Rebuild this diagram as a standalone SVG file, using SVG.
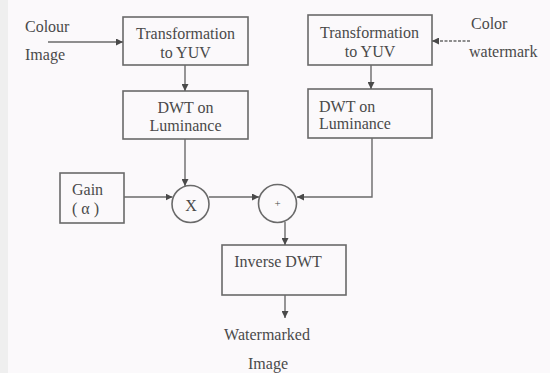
<svg xmlns="http://www.w3.org/2000/svg" width="550" height="373" viewBox="0 0 550 373">
<defs>
<style>
.box{fill:none;stroke:#6a6a6a;stroke-width:1.6}
.ln{fill:none;stroke:#6a6a6a;stroke-width:1.4}
.t{font-size:16px;fill:#4a4a4a}
.c{text-anchor:middle}
</style>
<marker id="ah" viewBox="0 0 10 10" refX="10" refY="5" markerWidth="7" markerHeight="7" orient="auto" markerUnits="userSpaceOnUse">
<path d="M0,0 L10,5 L0,10 z" fill="#4a4a4a"/>
</marker>
</defs>
<rect x="0" y="0" width="550" height="373" fill="#fbf9fb"/>
<rect x="0" y="0" width="8" height="373" fill="#efefef"/>
<g font-family="'Liberation Serif', 'DejaVu Serif', serif">
<g id="in-colour">
<text class="t" x="25" y="32">Colour</text>
<text class="t" x="25" y="60">Image</text>
</g>
<g id="tyuv1">
<rect class="box" x="123" y="17" width="125" height="48"/>
<text class="t c" x="185.5" y="39">Transformation</text>
<text class="t c" x="185.5" y="58">to YUV</text>
</g>
<g id="dwt1">
<rect class="box" x="123" y="91" width="125" height="48"/>
<text class="t c" x="185.5" y="113">DWT on</text>
<text class="t c" x="185.5" y="131">Luminance</text>
</g>
<g id="in-watermark">
<text class="t" x="471" y="29">Color</text>
<text class="t" x="469" y="57">watermark</text>
</g>
<g id="tyuv2">
<rect class="box" x="308" y="15" width="124" height="50"/>
<text class="t" x="320" y="38">Transformation</text>
<text class="t c" x="370" y="57">to YUV</text>
</g>
<g id="dwt2">
<rect class="box" x="308" y="89" width="124" height="49"/>
<text class="t" x="319" y="112">DWT on</text>
<text class="t" x="319" y="129">Luminance</text>
</g>
<g id="gain">
<rect class="box" x="60" y="173" width="64" height="50"/>
<text class="t" x="72" y="195">Gain</text>
<text class="t" x="72" y="214">( α )</text>
</g>
<g id="mult">
<circle class="box" cx="190.5" cy="204" r="18.5"/>
<text class="t c" x="191" y="211">X</text>
</g>
<g id="add">
<circle class="box" cx="277.5" cy="203.5" r="19"/>
<text class="t c" x="277.5" y="207" style="font-size:11px">+</text>
</g>
<g id="idwt">
<rect class="box" x="222" y="245" width="124" height="50"/>
<text class="t c" x="278" y="267">Inverse DWT</text>
</g>
<g id="out">
<text class="t c" x="267" y="340">Watermarked</text>
<text class="t c" x="268" y="369">Image</text>
</g>
</g>
<g id="connectors">
<line class="ln" x1="48" y1="42" x2="123" y2="42" marker-end="url(#ah)"/>
<line class="ln" x1="185" y1="65" x2="185" y2="91" marker-end="url(#ah)"/>
<line class="ln" x1="185" y1="139" x2="185" y2="186" marker-end="url(#ah)"/>
<line class="ln" x1="470" y1="41" x2="432" y2="41" stroke-dasharray="3,1.5" marker-end="url(#ah)"/>
<line class="ln" x1="371" y1="65" x2="371" y2="89" marker-end="url(#ah)"/>
<polyline class="ln" points="372,138 372,197 297,197" marker-end="url(#ah)"/>
<line class="ln" x1="124" y1="197" x2="172.5" y2="197" marker-end="url(#ah)"/>
<line class="ln" x1="209" y1="197" x2="259" y2="197" marker-end="url(#ah)"/>
<line class="ln" x1="285" y1="222" x2="285" y2="245" marker-end="url(#ah)"/>
<line class="ln" x1="285" y1="295" x2="285" y2="318" marker-end="url(#ah)"/>
</g>
</svg>
